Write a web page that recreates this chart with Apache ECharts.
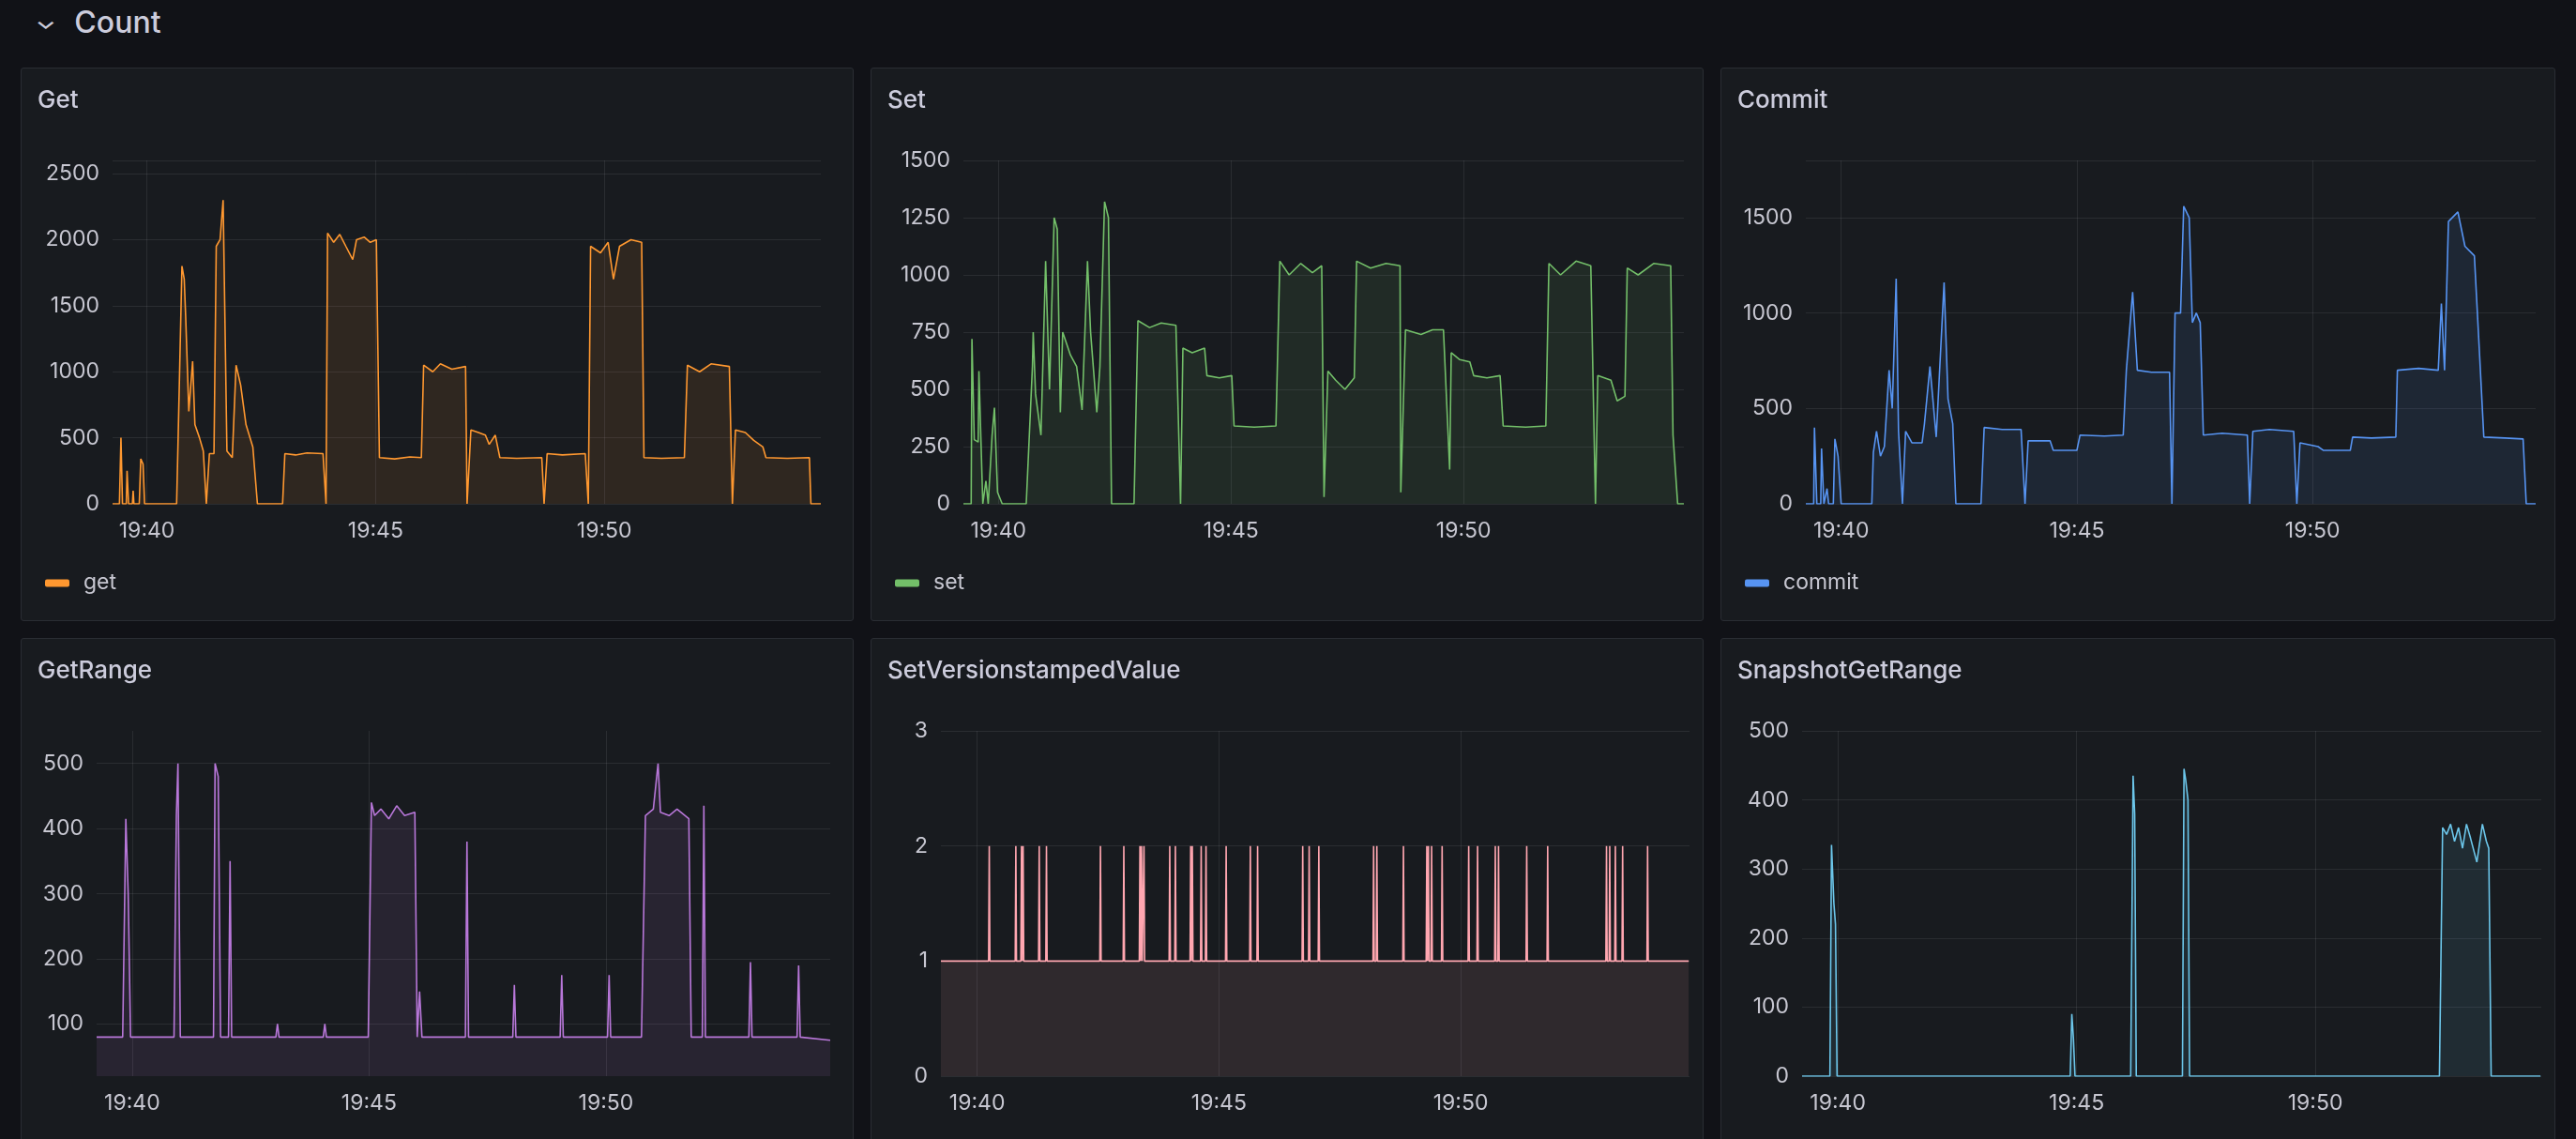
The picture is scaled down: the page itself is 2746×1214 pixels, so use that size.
<!DOCTYPE html>
<html>
<head>
<meta charset="utf-8">
<script src="https://cdn.jsdelivr.net/npm/echarts@6/dist/echarts.min.js"></script>
<style>
  body { margin: 0; background: #111217; width: 2746px; height: 1214px; overflow: hidden; font-family: Inter, sans-serif; }
  .row-title { position: absolute; left: 40px; top: 4px; color: #ccccdc; font-size: 32px; font-weight: 500; }
  .row-title span { display: inline-block; font-size: 22px; margin-right: 22px; transform: scaleX(1.3); position: relative; top: -4px; }
  .panel { position: absolute; background: #181b1f; border: 1px solid #2a2d33; border-radius: 3px; box-sizing: border-box; }
</style>
</head>
<body>
<div class="row-title"><span>&#8964;</span>Count</div>
<div id="p1" class="panel" style="left:22px;top:72px;width:888px;height:590px"></div>
<div id="p2" class="panel" style="left:928px;top:72px;width:888px;height:590px"></div>
<div id="p3" class="panel" style="left:1834px;top:72px;width:890px;height:590px"></div>
<div id="p4" class="panel" style="left:22px;top:680px;width:888px;height:600px"></div>
<div id="p5" class="panel" style="left:928px;top:680px;width:888px;height:600px"></div>
<div id="p6" class="panel" style="left:1834px;top:680px;width:890px;height:600px"></div>
<script>
// window starts 19:39:15; samples are [seconds after start, value]
const start = new Date(2024, 0, 1, 19, 39, 15).getTime()
const end = 929
const timeTicks = ['19:40', '19:45', '19:50']

const getPts = [[0, 0], [9, 0], [11, 500], [13, 0], [18, 0], [19, 250], [21, 0], [26, 0], [27, 100], [28, 0], [35, 0],
  [37, 340], [40, 300], [42, 0], [84, 0], [86, 500], [91, 1800], [94, 1700], [96, 1400], [100, 700], [105, 1080],
  [108, 600], [114, 500], [119, 400], [123, 0], [127, 380], [133, 380], [136, 1950], [141, 2000], [145, 2300],
  [150, 400], [157, 350], [162, 1050], [168, 900], [175, 600], [184, 430], [190, 0], [223, 0], [226, 380], [240, 370],
  [255, 385], [276, 380], [280, 0], [282, 2050], [290, 1980], [298, 2040], [306, 1950], [315, 1850], [320, 2000],
  [330, 2020], [338, 1980], [346, 2000], [350, 350], [370, 340], [390, 355], [405, 350], [408, 1050], [420, 1000],
  [430, 1060], [445, 1020], [463, 1040], [465, 0], [470, 560], [480, 540], [489, 520], [494, 450], [502, 520], [508, 350],
  [530, 345], [563, 350], [566, 0], [570, 380], [590, 370], [620, 380], [624, 0], [627, 1950], [640, 1900], [650, 1980],
  [657, 1700], [665, 1950], [680, 2000], [694, 1980], [697, 350], [720, 345], [750, 350], [754, 1050], [770, 1000],
  [785, 1060], [809, 1040], [813, 0], [817, 560], [830, 540], [841, 480], [853, 430], [857, 350], [885, 345], [914, 350],
  [916, 0], [929, 0]]
const setPts = [[0, 0], [10, 0], [11, 720], [14, 280], [19, 270], [20, 580], [25, 0], [29, 100], [32, 0], [37, 300],
  [40, 420], [44, 50], [50, 0], [81, 0], [89, 600], [90, 750], [93, 480], [100, 300], [106, 1060], [111, 500],
  [117, 1250], [121, 1200], [125, 400], [128, 750], [138, 650], [146, 600], [153, 410], [160, 1060], [164, 750],
  [172, 400], [176, 600], [182, 1320], [187, 1250], [191, 0], [220, 0], [225, 800], [240, 770], [255, 790], [274, 780],
  [280, 0], [283, 680], [295, 660], [311, 680], [314, 560], [330, 550], [346, 560], [349, 340], [375, 335], [403, 340],
  [408, 1060], [420, 1000], [435, 1050], [450, 1010], [462, 1040], [465, 30], [470, 580], [480, 540], [492, 500],
  [504, 550], [507, 1060], [525, 1030], [545, 1050], [563, 1040], [564, 50], [570, 760], [590, 740], [605, 760],
  [619, 760], [627, 150], [629, 660], [640, 630], [653, 620], [658, 560], [675, 550], [692, 560], [696, 340],
  [725, 335], [751, 340], [755, 1050], [770, 1000], [790, 1060], [809, 1040], [815, 0], [818, 560], [835, 540],
  [843, 450], [853, 470], [856, 1030], [870, 1000], [890, 1050], [912, 1040], [915, 300], [921, 0], [929, 0]]
const commitPts = [[0, 0], [10, 0], [11, 400], [14, 0], [19, 0], [20, 290], [23, 0], [27, 80], [29, 0], [35, 0],
  [37, 340], [41, 250], [45, 0], [84, 0], [86, 270], [90, 380], [95, 250], [100, 300], [106, 700], [110, 500],
  [115, 1180], [118, 380], [123, 0], [127, 380], [135, 320], [148, 320], [151, 420], [158, 720], [166, 350],
  [176, 1160], [181, 550], [187, 420], [191, 0], [223, 0], [227, 400], [250, 390], [274, 390], [279, 0], [283, 330],
  [311, 330], [315, 280], [345, 280], [349, 360], [380, 355], [404, 360], [408, 700], [416, 1110], [422, 700],
  [440, 690], [463, 690], [466, 0], [470, 1000], [477, 1000], [481, 1560], [488, 1500], [492, 950], [497, 1000],
  [502, 950], [506, 360], [530, 370], [562, 360], [565, 0], [569, 380], [590, 390], [621, 380], [625, 0], [629, 320],
  [652, 300], [659, 280], [693, 280], [696, 350], [720, 345], [751, 350], [753, 700], [780, 710], [805, 700],
  [809, 1050], [813, 700], [818, 1480], [830, 1530], [839, 1350], [851, 1300], [858, 750], [863, 350], [890, 345],
  [913, 340], [917, 0], [929, 0]]
const getRangePts = [[0, 80], [33, 80], [37, 415], [40, 300], [43, 80], [98, 80], [101, 420], [103, 500], [106, 80],
  [148, 80], [150, 500], [154, 480], [157, 80], [167, 80], [169, 350], [171, 80], [227, 80], [229, 100], [231, 80],
  [287, 80], [289, 100], [291, 80], [344, 80], [348, 440], [352, 420], [360, 430], [370, 415], [380, 435], [390, 420],
  [403, 425], [406, 80], [409, 150], [412, 80], [467, 80], [469, 380], [471, 80], [527, 80], [529, 160], [531, 80],
  [587, 80], [589, 175], [591, 80], [647, 80], [649, 175], [651, 80], [690, 80], [695, 420], [705, 430], [711, 500],
  [714, 425], [725, 420], [735, 430], [750, 415], [753, 80], [767, 80], [769, 435], [771, 80], [826, 80], [828, 195],
  [830, 80], [887, 80], [889, 190], [891, 80], [929, 75]]
const versionSpikes = [60, 93, 100, 102, 122, 131, 198, 227, 247, 249, 252, 284, 291, 310, 312, 323, 329, 354, 384,
  393, 449, 457, 469, 537, 541, 574, 603, 605, 609, 622, 655, 666, 688, 692, 727, 753, 826, 830, 837, 846, 877]
const snapshotPts = [[0, 0], [35, 0], [37, 335], [40, 250], [42, 220], [44, 0], [337, 0], [339, 90], [341, 55], [343, 0],
  [413, 0], [416, 435], [418, 380], [420, 0], [478, 0], [480, 445], [482, 430], [485, 400], [487, 0], [801, 0],
  [805, 360], [810, 350], [815, 365], [820, 340], [825, 360], [830, 330], [835, 365], [840, 345], [848, 310],
  [855, 365], [860, 340], [863, 330], [866, 0], [928, 0]]

function toTime(pts) {
  return pts.map(p => [start + p[0] * 1000, p[1]])
}
function spikes(times) {
  const out = [[start, 1]]
  times.forEach(t => {
    out.push([start + (t - 0.8) * 1000, 1], [start + t * 1000, 2], [start + (t + 0.8) * 1000, 1])
  })
  out.push([start + 928 * 1000, 1])
  return out
}
function clock(s) {
  const p = s.split(':')
  return new Date(2024, 0, 1, +p[0], +p[1], 0).getTime()
}
const tickMs = timeTicks.map(clock)

const txt = '#c7c7d1'
const gridLine = 'rgba(204,204,220,0.10)'

function panel(id, o) {
  const chart = echarts.init(document.getElementById(id))
  const yAxis = {
    type: 'value', min: o.min, max: o.max,
    axisLine: { show: false }, axisTick: { show: false },
    splitLine: { lineStyle: { color: gridLine } },
    axisLabel: { color: txt, fontSize: 23, fontFamily: 'Inter', margin: 14, showMaxLabel: o.showMax !== false, formatter: v => String(v) }
  }
  if (o.interval) yAxis.interval = o.interval
  if (o.custom) {
    yAxis.axisLabel.customValues = o.custom
    yAxis.axisTick.customValues = o.custom
    yAxis.splitLine.show = false
  }
  // vertical grid at the time ticks, horizontal ones for custom y labels
  const lines = tickMs.map(t => ({ xAxis: t }))
  if (o.custom) o.custom.forEach(v => lines.push({ yAxis: v }))
  chart.setOption({
    backgroundColor: 'transparent',
    title: { text: o.title, left: 12, top: 16, textStyle: { color: '#ccccdc', fontSize: 26, fontWeight: 500, fontFamily: 'Inter' } },
    legend: o.legend ? {
      data: [o.name], left: 20, top: 532, icon: 'roundRect', itemWidth: 26, itemHeight: 8,
      textStyle: { color: txt, fontSize: 23, fontFamily: 'Inter', padding: [0, 0, 0, 10] }
    } : { show: false },
    grid: { left: o.left, right: o.right, top: 98, bottom: o.bottom },
    xAxis: {
      type: 'value', min: start, max: start + end * 1000,
      axisLine: { show: false }, axisTick: { show: false }, splitLine: { show: false },
      axisLabel: {
        color: txt, fontSize: 23, fontFamily: 'Inter', margin: 18, customValues: tickMs,
        formatter: v => echarts.time.format(v, '{HH}:{mm}', false)
      }
    },
    yAxis: yAxis,
    series: [{
      name: o.name, type: 'line', data: o.data, showSymbol: false, symbol: 'none', animation: false,
      lineStyle: { color: o.color, width: 1.6 }, itemStyle: { color: o.color },
      areaStyle: { color: o.color, opacity: 0.1 },
      markLine: {
        silent: true, symbol: 'none', label: { show: false }, animation: false,
        lineStyle: { color: gridLine, type: 'solid', width: 1 }, data: lines
      }
    }]
  })
}

panel('p1', { title: 'Get', name: 'get', color: '#FF9830', data: toTime(getPts), min: 0, max: 2600, interval: 500, showMax: false, left: 97, right: 34, bottom: 124, legend: true })
panel('p2', { title: 'Set', name: 'set', color: '#73BF69', data: toTime(setPts), min: 0, max: 1500, interval: 250, left: 98, right: 20, bottom: 124, legend: true })
panel('p3', { title: 'Commit', name: 'commit', color: '#5794F2', data: toTime(commitPts), min: 0, max: 1800, interval: 500, showMax: false, left: 90, right: 20, bottom: 124, legend: true })
panel('p4', { title: 'GetRange', name: 'getrange', color: '#B877D9', data: toTime(getRangePts), min: 20, max: 550, custom: [100, 200, 300, 400, 500], left: 80, right: 24, bottom: 132 })
panel('p5', { title: 'SetVersionstampedValue', name: 'setversionstampedvalue', color: '#FFA6B0', data: spikes(versionSpikes), min: 0, max: 3, interval: 1, left: 74, right: 14, bottom: 132 })
panel('p6', { title: 'SnapshotGetRange', name: 'snapshotgetrange', color: '#6CC6EA', data: toTime(snapshotPts), min: 0, max: 500, interval: 100, left: 86, right: 14, bottom: 132 })
</script>
</body>
</html>
